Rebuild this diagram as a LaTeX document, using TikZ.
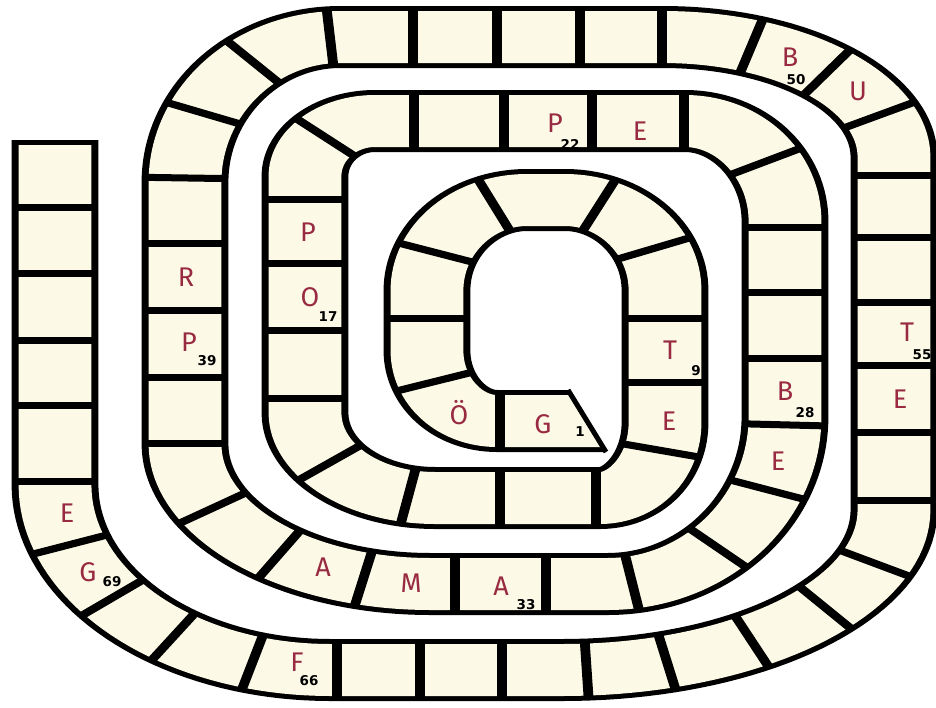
\documentclass[tikz,border=0pt]{standalone}
\usepackage{fontspec}
\setmainfont{Fira Sans}
\newfontfamily\numfont{DejaVu Sans}
\definecolor{creamc}{RGB}{252,250,230}
\definecolor{letc}{RGB}{152,42,66}
\tikzset{
  divline/.style={line width=7pt, line cap=butt},
  letter/.style={text=letc, font=\fontsize{27}{27}\selectfont, inner sep=0pt},
  num/.style={font=\numfont\bfseries\fontsize{13.5}{13.5}\selectfont, inner sep=0pt},
}
% corner dividers: centre Ox Oy, radii a b (image px), list of angles
\newcommand\cdivs[5]{\foreach \ang in {#5}{%
  \pgfmathsetmacro\cpx{#1+#3*cos(\ang)}%
  \pgfmathsetmacro\cpy{#2+#4*sin(\ang)}%
  \pgfmathsetmacro\cnx{(#4/100)*cos(\ang)}%
  \pgfmathsetmacro\cny{(#3/140)*sin(\ang)}%
  \pgfmathsetmacro\cnl{sqrt(\cnx*\cnx+\cny*\cny)}%
  \pgfmathsetmacro\cdx{40.6*\cnx/\cnl}%
  \pgfmathsetmacro\cdy{29*\cny/\cnl}%
  \draw[divline] ({\cpx+\cdx},{\cpy+\cdy}) -- ({\cpx-\cdx},{\cpy-\cdy});}}
\newcommand\rowdivs[2]{\foreach \xx in {#2}{\draw[divline] (\xx,{#1-29}) -- (\xx,{#1+29});}}
\newcommand\coldivs[2]{\foreach \yy in {#2}{\draw[divline] ({#1-40.6},\yy) -- ({#1+40.6},\yy);}}
\begin{document}
\begin{tikzpicture}[x=1pt,y=-1pt]
\fill[white] (0,0) rectangle (936,707);
\useasboundingbox (0,0) rectangle (936,707);
\begin{scope}[transform canvas={xscale=1.4}, x={(0.7142857pt,0pt)}, y={(0pt,-1pt)}]
  \path[draw=black, line width=62pt, line join=round,
        postaction={draw=creamc, line width=52pt, line join=round}]
    (607,421) -- (497,421)
    -- plot[domain=90:180, samples=31, variable=\t] ({497+70*cos(\t)},{351+70*sin(\t)})
    -- (427,290)
    -- plot[domain=180:270, samples=31, variable=\t] ({527+100*cos(\t)},{290+90*sin(\t)})
    -- (565,200)
    -- plot[domain=270:360, samples=31, variable=\t] ({565+100*cos(\t)},{290+90*sin(\t)})
    -- (665,423)
    -- plot[domain=0:90, samples=31, variable=\t] ({600+65*cos(\t)},{423+75*sin(\t)})
    -- (435,498)
    -- plot[domain=90:180, samples=31, variable=\t] ({435+130*cos(\t)},{413+85*sin(\t)})
    -- (305,176)
    -- plot[domain=180:270, samples=31, variable=\t] ({375+70*cos(\t)},{176+55*sin(\t)})
    -- (685,121)
    -- plot[domain=270:360, samples=31, variable=\t] ({685+100*cos(\t)},{221+100*sin(\t)})
    -- (785,417)
    -- plot[domain=0:90, samples=41, variable=\t] ({608+177*cos(\t)},{417+167*sin(\t)})
    -- (430,584)
    -- plot[domain=90:180, samples=41, variable=\t] ({430+245*cos(\t)},{444+140*sin(\t)})
    -- (185,182)
    -- plot[domain=180:270, samples=41, variable=\t] ({340+155*cos(\t)},{182+145*sin(\t)})
    -- (663,37)
    -- plot[domain=270:360, samples=41, variable=\t] ({663+231*cos(\t)},{157+120*sin(\t)})
    -- (894,510)
    -- plot[domain=0:90, samples=41, variable=\t] ({563+331*cos(\t)},{510+160*sin(\t)})
    -- (330,670)
    -- plot[domain=90:180, samples=41, variable=\t] ({330+275*cos(\t)},{485+185*sin(\t)})
    -- (55,140);
  % dividers, in the order of the track
  \rowdivs{421}{500}
  \cdivs{497}{351}{70}{70}{154}
  \coldivs{427}{318}
  \cdivs{527}{290}{100}{90}{204.5,250.7}
  \cdivs{565}{290}{100}{90}{289.9,332.5}
  \coldivs{665}{318,382}
  \cdivs{600}{423}{65}{75}{21.4}
  \rowdivs{498}{596,500}
  \cdivs{435}{413}{130}{85}{101.9,144.2}
  \coldivs{305}{398,330,263,199}
  \cdivs{375}{176}{70}{55}{224.8}
  \rowdivs{121}{414,504,592,684}
  \cdivs{685}{221}{100}{100}{323.5}
  \coldivs{785}{227,292,358}
  \cdivs{608}{417}{177}{167}{2.7,25.8,51.6,82.2}
  \rowdivs{584}{546,455}
  \cdivs{430}{444}{245}{140}{105.8,128,152.7}
  \coldivs{185}{443,377,310,243}
  \cdivs{340}{182}{155}{145}{181.6,208.3,235.9,266.3}
  \rowdivs{37}{413,497,580,662}
  \cdivs{663}{157}{231}{120}{292.5,315.2,339.5}
  \coldivs{894}{175,237,302,365,432,500}
  \cdivs{563}{510}{331}{160}{19.5,37.6,55.2,71.7,85.9}
  \rowdivs{670}{502,420,337}
  \cdivs{330}{485}{275}{185}{106.4,124.8,142.4,161.2}
  \coldivs{55}{481,405,340,273,207}
  \draw[line width=5pt] ({55-40.6},142.5) -- ({55+40.6},142.5);
\end{scope}
% slanted start of the first cell
\fill[white] (566,387) -- (612,387) -- (612,453) -- (607,453) -- cycle;
\draw[line width=5pt] (568,390) -- (606,452);
% letters
\node[letter] (l1) at (543,424) {G};
\node[num] (n1) at (580,432) {1};
\node[letter] (l2) at (459,413) {Ö};
\node[letter] (l9) at (670,350) {T};
\node[num] (n9) at (696,371) {9};
\node[letter] (l10) at (669,421) {E};
\node[letter] (l17) at (310,297) {O};
\node[num] (n17) at (328,317) {17};
\node[letter] (l18) at (308,232) {P};
\node[letter] (l22) at (555,123) {P};
\node[num] (n22) at (570,144) {22};
\node[letter] (l23) at (640,131) {E};
\node[letter] (l28) at (785,391) {B};
\node[num] (n28) at (805,413) {28};
\node[letter] (l29) at (778,461) {E};
\node[letter] (l33) at (501,586) {A};
\node[num] (n33) at (526,605) {33};
\node[letter] (l34) at (411,583) {M};
\node[letter] (l35) at (323,567) {A};
\node[letter] (l39) at (189,342) {P};
\node[num] (n39) at (207,361) {39};
\node[letter] (l40) at (186,277) {R};
\node[letter] (l50) at (790,57) {B};
\node[num] (n50) at (796,80) {50};
\node[letter] (l51) at (858,91) {U};
\node[letter] (l55) at (907,332) {T};
\node[num] (n55) at (922,355) {55};
\node[letter] (l56) at (900,399) {E};
\node[letter] (l66) at (297,662) {F};
\node[num] (n66) at (309,681) {66};
\node[letter] (l69) at (88,572) {G};
\node[num] (n69) at (112,582) {69};
\node[letter] (l70) at (67,513) {E};
\end{tikzpicture}
\end{document}
